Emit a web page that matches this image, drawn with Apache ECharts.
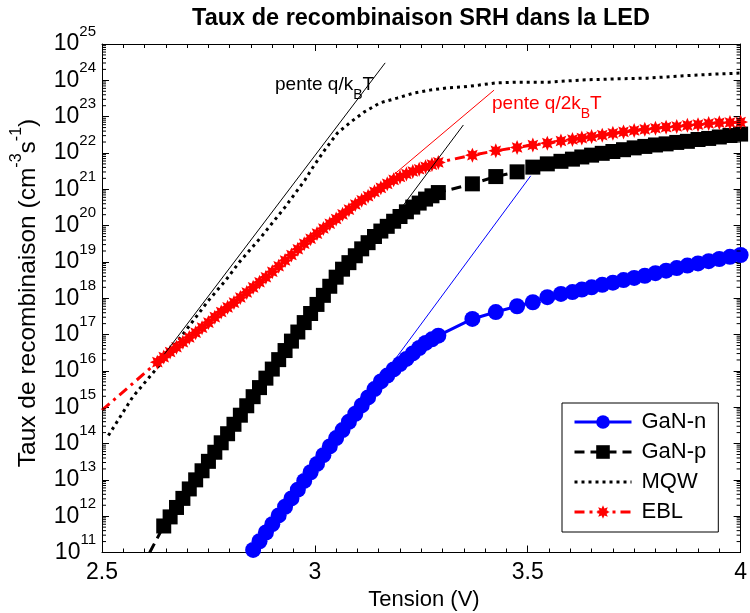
<!DOCTYPE html>
<html><head><meta charset="utf-8">
<script src="https://cdn.jsdelivr.net/npm/echarts@6/dist/echarts.min.js"></script>
<style>html,body{margin:0;padding:0;background:#fff}#c{width:750px;height:613px}</style>
</head><body><div id="c"></div><script>
// ---------- data ----------
const xTicks = [2.5, 3, 3.5, 4];
const yExpMin = 11, yExpMax = 25;
const seriesNames = ['GaN-n', 'GaN-p', 'MQW', 'EBL'];

// shared high-voltage grid
const tailV = [3.37, 3.425, 3.475, 3.512, 3.546, 3.578, 3.605, 3.627, 3.65, 3.675, 3.7, 3.725, 3.75, 3.775, 3.8, 3.825, 3.85, 3.875, 3.9, 3.925, 3.95, 3.975, 4.0];

// GaN-n (log10 of rate)
const ganN_V = [2.855, 2.87, 2.885, 2.9, 2.915, 2.93, 2.945, 2.96, 2.975, 2.99, 3.005, 3.02, 3.035, 3.05, 3.065, 3.08, 3.095, 3.11, 3.125, 3.14, 3.155, 3.17, 3.185, 3.2, 3.215, 3.23, 3.245, 3.26, 3.275, 3.29];
const ganN_log = [11.07, 11.31, 11.55, 11.78, 12.02, 12.26, 12.49, 12.73, 12.97, 13.21, 13.44, 13.68, 13.92, 14.15, 14.37, 14.60, 14.82, 15.05, 15.27, 15.50, 15.71, 15.87, 16.04, 16.19, 16.33, 16.48, 16.63, 16.77, 16.87, 16.97,
  17.43, 17.62, 17.78, 17.89, 18.03, 18.12, 18.17, 18.24, 18.30, 18.37, 18.43, 18.50, 18.56, 18.62, 18.69, 18.76, 18.83, 18.90, 18.96, 19.02, 19.08, 19.14, 19.19];

// GaN-p
const ganP_V = [2.612, 2.645, 2.66, 2.675, 2.69, 2.705, 2.72, 2.735, 2.75, 2.765, 2.78, 2.795, 2.81, 2.825, 2.84, 2.855, 2.87, 2.885, 2.9, 2.915, 2.93, 2.945, 2.96, 2.975, 2.99, 3.005, 3.02, 3.035, 3.05, 3.065, 3.08, 3.095, 3.11, 3.125, 3.14, 3.155, 3.17, 3.185, 3.2, 3.215, 3.23, 3.245, 3.26, 3.275, 3.29];
const ganP_log = [11.0, 11.73, 11.98, 12.24, 12.49, 12.75, 13.00, 13.25, 13.51, 13.76, 14.02, 14.27, 14.53, 14.78, 15.04, 15.29, 15.54, 15.80, 16.05, 16.31, 16.56, 16.82, 17.07, 17.33, 17.58, 17.83, 18.08, 18.33, 18.58, 18.80, 18.98, 19.17, 19.36, 19.53, 19.70, 19.85, 19.98, 20.12, 20.25, 20.38, 20.51, 20.62, 20.73, 20.82, 20.91,
  21.15, 21.35, 21.48, 21.61, 21.70, 21.77, 21.83, 21.89, 21.94, 21.99, 22.04, 22.09, 22.14, 22.18, 22.22, 22.25, 22.29, 22.32, 22.37, 22.40, 22.44, 22.48, 22.52];

// MQW (line only)
const mqw_V = [2.515, 2.572, 2.635, 2.698, 2.751, 2.791, 2.821, 2.874, 2.930, 2.977, 2.991, 3.023, 3.053, 3.084, 3.116, 3.153, 3.193, 3.233, 3.270, 3.309, 3.349, 3.386, 3.426, 3.472, 3.549, 3.628, 3.705, 3.781, 3.860, 3.937, 4.0];
const mqw_log = [14.22, 15.28, 16.16, 17.13, 17.95, 18.50, 18.97, 19.69, 20.51, 21.26, 21.53, 22.08, 22.55, 22.85, 23.13, 23.38, 23.51, 23.65, 23.73, 23.79, 23.82, 23.87, 23.93, 23.95, 23.95, 24.01, 24.04, 24.06, 24.12, 24.17, 24.20];

// EBL
const ebl_V = [2.5, 2.63, 2.645, 2.66, 2.675, 2.69, 2.705, 2.72, 2.735, 2.75, 2.765, 2.78, 2.795, 2.81, 2.825, 2.84, 2.855, 2.87, 2.885, 2.9, 2.915, 2.93, 2.945, 2.96, 2.975, 2.99, 3.005, 3.02, 3.035, 3.05, 3.065, 3.08, 3.095, 3.11, 3.125, 3.14, 3.155, 3.17, 3.185, 3.2, 3.215, 3.23, 3.245, 3.26, 3.275, 3.29];
const ebl_log = [14.92, 16.24, 16.38, 16.52, 16.65, 16.79, 16.92, 17.05, 17.19, 17.33, 17.48, 17.62, 17.75, 17.88, 18.02, 18.16, 18.30, 18.44, 18.58, 18.73, 18.88, 19.04, 19.19, 19.35, 19.50, 19.64, 19.78, 19.92, 20.05, 20.18, 20.31, 20.44, 20.58, 20.70, 20.81, 20.93, 21.04, 21.15, 21.26, 21.34, 21.42, 21.49, 21.55, 21.62, 21.68, 21.74,
  21.94, 22.06, 22.15, 22.22, 22.27, 22.33, 22.37, 22.41, 22.45, 22.49, 22.54, 22.58, 22.62, 22.65, 22.68, 22.71, 22.73, 22.76, 22.78, 22.81, 22.83, 22.84, 22.85];

// slope guide lines (endpoints)
const slopeKT_V = [2.6465, 3.1651], slopeKT_log = [16.46, 24.48];
const slope2KT_V = [3.0535, 3.4209], slope2KT_log = [20.10, 23.73];
const slopeP_V = [3.1465, 3.3488], slopeP_log = [19.60, 22.77];
const slopeN_V = [3.0535, 3.507], slopeN_log = [14.18, 21.37];

// ---------- build ----------
const FONT = '"Liberation Sans", Arial, Helvetica, sans-serif';
function pts(V, L, hideFirst) {
  return V.map((v, i) => {
    const it = { value: [v, Math.pow(10, L[i])] };
    if (hideFirst && i === 0) it.symbol = 'none';
    return it;
  });
}
const starPath = 'path://M0,-10L2.1,-5.07L7.071,-7.071L5.07,-2.1L10,0L5.07,2.1L7.071,7.071L2.1,5.07L0,10L-2.1,5.07L-7.071,7.071L-5.07,2.1L-10,0L-5.07,-2.1L-7.071,-7.071L-2.1,-5.07Z';

const minorTickData = [];
for (let e = yExpMin; e < yExpMax; e++) for (let k = 2; k <= 9; k++) minorTickData.push([2.5, k * Math.pow(10, e)]);

function guide(V, L, color) {
  return { type: 'line', data: pts(V, L, false), symbol: 'none', silent: true,
    lineStyle: { color: color, width: 1 }, z: 3 };
}

const xAxisBase = {
  type: 'value', min: 2.5, max: 4, interval: 0.5,
  axisLine: { show: true, onZero: false, lineStyle: { color: '#000', width: 1 } },
  axisTick: { show: true, inside: true, length: 7, lineStyle: { color: '#000' } },
  minorTick: { show: true, splitNumber: 10, length: 4, lineStyle: { color: '#000' } },
  splitLine: { show: false }, minorSplitLine: { show: false }
};
const yAxisBase = {
  type: 'log', logBase: 10, min: Math.pow(10, yExpMin), max: Math.pow(10, yExpMax), interval: 1, splitNumber: 14,
  axisLine: { show: true, onZero: false, lineStyle: { color: '#000', width: 1 } },
  axisTick: { show: true, inside: true, length: 7, lineStyle: { color: '#000' } },
  splitLine: { show: false }
};

const option = {
  animation: false,
  backgroundColor: '#fff',
  textStyle: { fontFamily: FONT, color: '#000' },
  grid: { left: 102, right: 3, top: 44, bottom: 60.5, containLabel: false },
  xAxis: [
    Object.assign({}, xAxisBase, { position: 'bottom',
      axisLabel: { show: true, fontSize: 23, color: '#000', margin: 20, verticalAlign: 'middle', fontFamily: FONT,
        formatter: v => xTicks.includes(v) ? String(v) : '' } }),
    Object.assign({}, xAxisBase, { position: 'top', axisLabel: { show: false } })
  ],
  yAxis: [
    Object.assign({}, yAxisBase, { position: 'left',
      axisLabel: { show: true, margin: 6, color: '#000',
        formatter: v => '{b|10}{s|' + Math.round(Math.log10(v)) + '}',
        rich: { b: { fontSize: 23, lineHeight: 40, fontFamily: FONT, color: '#000' },
                s: { fontSize: 15, lineHeight: 20, verticalAlign: 'top', fontFamily: FONT, color: '#000' } } } }),
    Object.assign({}, yAxisBase, { position: 'right', axisLabel: { show: false } })
  ],
  legend: {
    data: ['GaN-n', 'GaN-p', { name: 'MQW', itemStyle: { opacity: 0 } }, 'EBL'],
    orient: 'vertical', left: 562, top: 403,
    itemWidth: 57, itemHeight: 17, itemGap: 8,
    padding: [8, 12, 9, 11], borderColor: '#000', borderWidth: 1, backgroundColor: '#fff',
    selectedMode: false,
    lineStyle: { width: 3 },
    textStyle: { fontSize: 22, fontFamily: FONT, color: '#000', lineHeight: 22, padding: [0, 0, 0, 5] }
  },
  series: [
    { name: 'GaN-n', type: 'line', data: pts(ganN_V.concat(tailV), ganN_log, false),
      symbol: 'circle', symbolSize: 16, showAllSymbol: true,
      itemStyle: { color: '#0000ff' }, lineStyle: { color: '#0000ff', width: 3 }, z: 2 },
    { name: 'GaN-p', type: 'line', data: pts(ganP_V.concat(tailV), ganP_log, true),
      symbol: 'rect', symbolSize: 15, showAllSymbol: true,
      itemStyle: { color: '#000' }, lineStyle: { color: '#000', width: 3, type: [10, 6] }, z: 2 },
    { name: 'MQW', type: 'line', data: pts(mqw_V, mqw_log, false),
      symbol: 'none', itemStyle: { color: '#000' }, lineStyle: { color: '#000', width: 3, type: [3, 4] }, z: 2 },
    { name: 'EBL', type: 'line', data: pts(ebl_V.concat(tailV), ebl_log, true),
      symbol: starPath, symbolSize: 15, showAllSymbol: true,
      itemStyle: { color: '#ff0000' }, lineStyle: { color: '#ff0000', width: 3, type: [10, 5, 3, 5] }, z: 2 },
    guide(slopeKT_V, slopeKT_log, '#000000'),
    guide(slope2KT_V, slope2KT_log, '#ff0000'),
    guide(slopeP_V, slopeP_log, '#000000'),
    guide(slopeN_V, slopeN_log, '#0000ff'),
    { type: 'custom', silent: true, clip: false, data: minorTickData, z: 5,
      renderItem: (params, api) => {
        const y = api.coord([api.value(0), api.value(1)])[1];
        const x0 = params.coordSys.x, x1 = x0 + params.coordSys.width;
        return { type: 'group', children: [
          { type: 'line', shape: { x1: x0, y1: y, x2: x0 + 4, y2: y }, style: { stroke: '#000', lineWidth: 1 } },
          { type: 'line', shape: { x1: x1, y1: y, x2: x1 - 4, y2: y }, style: { stroke: '#000', lineWidth: 1 } }
        ] };
      } }
  ],
  graphic: [
    { type: 'text', x: 421, y: 18.5, style: { text: 'Taux de recombinaison SRH dans la LED', fontSize: 23.5, fontWeight: 'bold', fontFamily: FONT, fill: '#000', align: 'center', verticalAlign: 'middle' } },
    { type: 'text', x: 424, y: 600, style: { text: 'Tension (V)', fontSize: 22, fontFamily: FONT, fill: '#000', align: 'center', verticalAlign: 'middle' } },
    { type: 'text', x: 28, y: 293, rotation: Math.PI / 2, style: {
        text: '{a|Taux de recombinaison (cm}{s|-3}{a|s}{s|-1}{a|)}', fill: '#000', align: 'center', verticalAlign: 'middle',
        rich: { a: { fontSize: 24.5, lineHeight: 38, fontFamily: FONT, fill: '#000' },
                s: { fontSize: 16, lineHeight: 19, verticalAlign: 'top', fontFamily: FONT, fill: '#000' } } } },
    { type: 'text', x: 275, y: 75.4, z: 10, style: {
        text: '{a|pente q/k}{b|B}{a|T}', fill: '#000', align: 'left', verticalAlign: 'top',
        rich: { a: { fontSize: 19, lineHeight: 20, verticalAlign: 'top', fontFamily: FONT, fill: '#000' },
                b: { fontSize: 14, lineHeight: 40, fontFamily: FONT, fill: '#000' } } } },
    { type: 'text', x: 492, y: 94.4, z: 10, style: {
        text: '{a|pente q/2k}{b|B}{a|T}', fill: '#ff0000', align: 'left', verticalAlign: 'top',
        rich: { a: { fontSize: 19, lineHeight: 20, verticalAlign: 'top', fontFamily: FONT, fill: '#ff0000' },
                b: { fontSize: 14, lineHeight: 40, fontFamily: FONT, fill: '#ff0000' } } } }
  ]
};
const chart = echarts.init(document.getElementById('c'), null, { renderer: 'canvas' });
chart.setOption(option);
</script></body></html>
